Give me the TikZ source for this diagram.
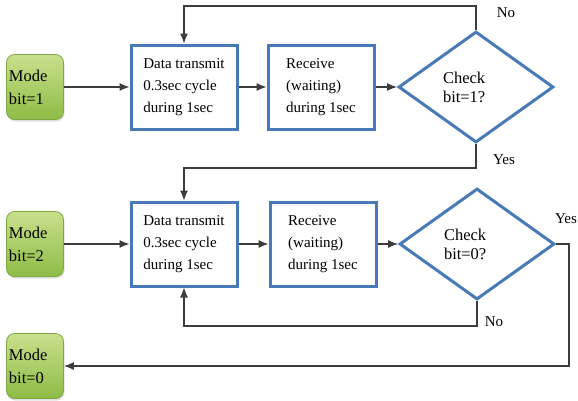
\documentclass[tikz,border=0pt]{standalone}
\usepackage{fontspec}
\setmainfont{Liberation Serif}
\usepackage{xcolor}
\usepackage{tikz}
\usetikzlibrary{shapes.geometric,arrows.meta,shadows}

\definecolor{boxblue}{RGB}{72,122,184}
\definecolor{modetop}{RGB}{200,224,140}
\definecolor{modebot}{RGB}{142,188,70}
\definecolor{modeedge}{RGB}{128,168,66}
\definecolor{wire}{RGB}{60,60,60}

\tikzset{
  mode/.style={rectangle,rounded corners=8pt,draw=modeedge,line width=0.8pt,top color=modetop,bottom color=modebot,
    drop shadow={opacity=0.25,shadow xshift=1pt,shadow yshift=-2pt},
    minimum width=57pt,minimum height=65pt,text width=52pt,inner xsep=2.5pt,align=left,
    font=\fontsize{16.5}{23}\selectfont},
  proc/.style={rectangle,draw=boxblue,line width=3pt,fill=white,minimum width=106pt,minimum height=84pt,
    align=left,font=\fontsize{15}{22}\selectfont},
  check/.style={diamond,draw=boxblue,line width=3pt,fill=white,minimum width=155pt,minimum height=111pt,
    inner sep=0pt,text width=66pt,align=left,font=\fontsize{16.5}{19}\selectfont},
  arr/.style={draw=wire,line width=1.2pt,-{Latex[length=10pt,width=8pt]}},
  lbl/.style={font=\fontsize{15}{18}\selectfont}
}

\begin{document}
\begin{tikzpicture}[x=1pt,y=1pt]
\useasboundingbox (0,0) rectangle (578,-400);

% first cycle
\node[mode] (m1) at (35,-87) {Mode\\bit=1};
\node[proc] (tx1) at (184,-87) {Data transmit\\0.3sec cycle\\during 1sec};
\node[proc] (rx1) at (321,-87) {Receive\\(waiting)\\during 1sec};
\node[check] (ck1) at (476,-87) {Check\\bit=1?};

% second cycle
\node[mode] (m2) at (35,-244) {Mode\\bit=2};
\node[proc] (tx2) at (184,-244) {Data transmit\\0.3sec cycle\\during 1sec};
\node[proc] (rx2) at (323,-244) {Receive\\(waiting)\\during 1sec};
\node[check] (ck2) at (477,-244) {Check\\bit=0?};

\node[mode] (m0) at (35,-366) {Mode\\bit=0};

\draw[arr] (m1) -- (tx1);
\draw[arr] (tx1) -- (rx1);
\draw[arr] (rx1) -- (ck1);
\draw[arr] (ck1.north) -- ++(0,24) -| (tx1.north);
\draw[arr] (ck1.south) -- ++(0,-24) -| (tx2.north);

\draw[arr] (m2) -- (tx2);
\draw[arr] (tx2) -- (rx2);
\draw[arr] (rx2) -- (ck2);
\draw[arr] (ck2.south) -- ++(0,-25) -| (tx2.south);
\draw[arr] (ck2.east) -- ++(13,0) |- (m0.east);

\node[lbl] (no1) at (506,-13) {No};
\node[lbl] (yes1) at (504,-160) {Yes};
\node[lbl] (yes2) at (566,-219) {Yes};
\node[lbl] (no2) at (494,-322) {No};

\end{tikzpicture}
\end{document}
